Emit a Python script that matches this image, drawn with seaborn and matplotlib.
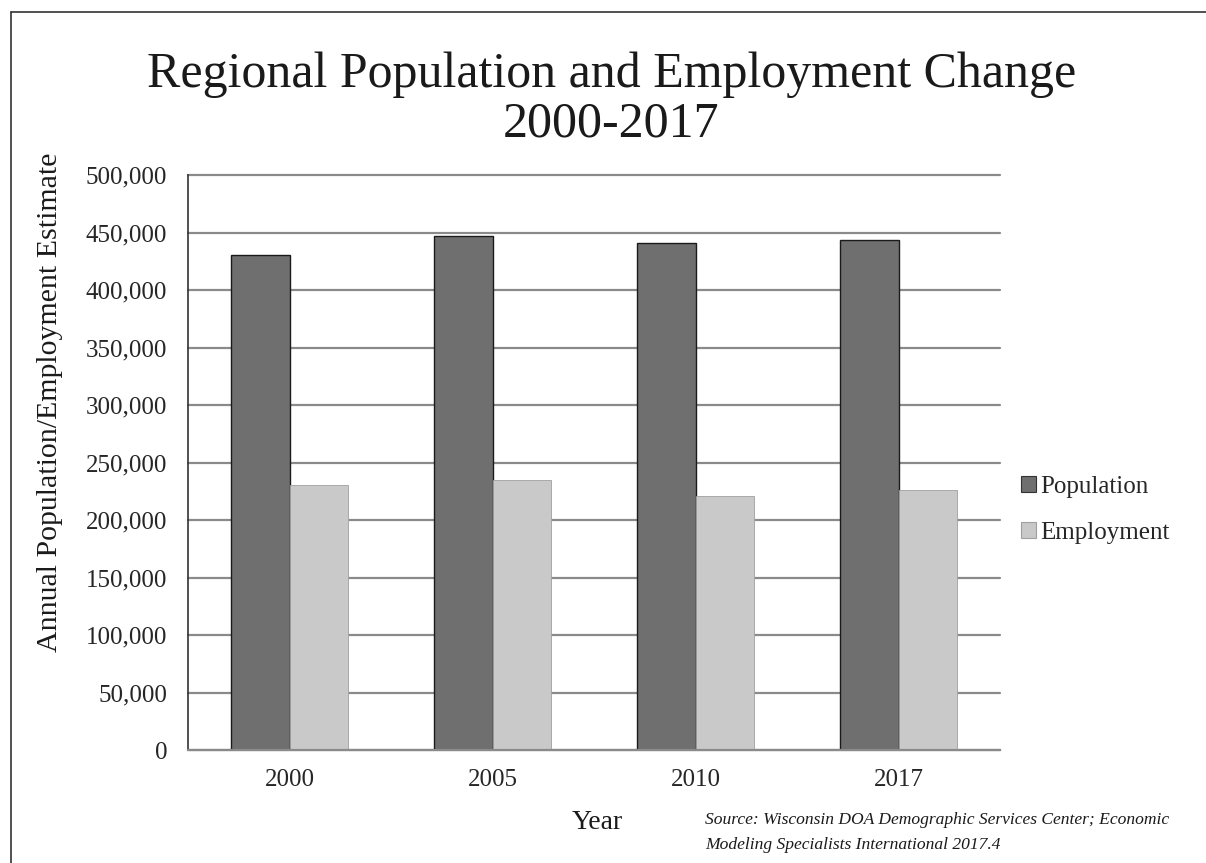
import pandas as pd
import numpy as np
import matplotlib
matplotlib.use("Agg")
import matplotlib.pyplot as plt
import seaborn as sns
from matplotlib.lines import Line2D
from matplotlib.ticker import FuncFormatter

# ===============================
# DATA
# ===============================
years = ["2000", "2005", "2010", "2017"]
population = [430200, 447100, 441300, 443900]
employment = [230200, 234800, 220800, 226300]
series_names = ["Population", "Employment"]
y_ticks = list(range(0, 500001, 50000))

df = pd.DataFrame({
    "Year": years * 2,
    "Series": [series_names[0]] * len(years) + [series_names[1]] * len(years),
    "Value": population + employment,
})

# ===============================
# STYLE
# ===============================
sns.set_theme(style="white")
plt.rcParams["font.family"] = ["Liberation Serif", "DejaVu Serif"]

fig = plt.figure(figsize=(12.06, 8.63), dpi=100)
ax = fig.add_axes([0.1559, 0.1309, 0.6733, 0.6663])

palette = {"Population": "#6f6f6f", "Employment": "#c9c9c9"}
sns.barplot(data=df, x="Year", y="Value", hue="Series", palette=palette,
            width=0.58, gap=0, ax=ax, legend=False, saturation=1)

for bar in ax.patches[:len(years)]:
    bar.set_edgecolor("#1a1a1a")
    bar.set_linewidth(1.0)
for bar in ax.patches[len(years):2 * len(years)]:
    bar.set_edgecolor("#a0a0a0")
    bar.set_linewidth(0.6)

ax.set_xlim(-0.5, 3.5)
ax.set_ylim(0, 500000)
ax.set_yticks(y_ticks)
ax.yaxis.set_major_formatter(FuncFormatter(lambda v, p: f"{int(v):,}"))
ax.yaxis.grid(True, color="#8a8a8a", linewidth=1.6)
for gl in ax.get_ygridlines():
    gl.set_clip_on(False)
ax.set_axisbelow(True)
ax.tick_params(axis="y", length=8, width=1.6, color="#8a8a8a", labelsize=18, pad=7)
ax.tick_params(axis="x", length=0, labelsize=18, pad=14)
ax.set_xlabel("")
ax.set_ylabel("")

for s in ["top", "right"]:
    ax.spines[s].set_visible(False)
ax.spines["left"].set_color("#333333")
ax.spines["left"].set_linewidth(1.2)
ax.spines["bottom"].set_color("#8a8a8a")
ax.spines["bottom"].set_linewidth(1.6)

# ===============================
# TEXT
# ===============================
fig.text(0.507, 1 - 75 / 863, "Regional Population and Employment Change",
         ha="center", va="center", fontsize=36, color="#1a1a1a")
fig.text(0.507, 1 - 124 / 863, "2000-2017",
         ha="center", va="center", fontsize=36, color="#1a1a1a")
fig.text(50 / 1206, 1 - 402 / 863, "Annual Population/Employment Estimate",
         ha="center", va="center", rotation=90, fontsize=21.5, color="#1a1a1a")
fig.text(597 / 1206, 1 - 822 / 863, "Year",
         ha="center", va="center", fontsize=20, color="#1a1a1a")
fig.text(705 / 1206, 1 - 820 / 863,
         "Source: Wisconsin DOA Demographic Services Center; Economic",
         ha="left", va="center", fontsize=12.6, style="italic", color="#1a1a1a")
fig.text(705 / 1206, 1 - 845 / 863,
         "Modeling Specialists International 2017.4",
         ha="left", va="center", fontsize=12.6, style="italic", color="#1a1a1a")

# legend
handles = [plt.Rectangle((0, 0), 1, 1, facecolor=palette[n],
                         edgecolor="#333333" if n == "Population" else "#a0a0a0",
                         linewidth=0.8) for n in series_names]
fig.legend(handles, series_names, loc="center left",
           bbox_to_anchor=(998 / 1206, 1 - 510 / 863), frameon=False,
           fontsize=18, handlelength=0.6, handleheight=0.6,
           handletextpad=0.2, labelspacing=0.95)

# frame lines (left and top)
fig.add_artist(Line2D([11 / 1206, 11 / 1206], [0, 1 - 12 / 863],
                      transform=fig.transFigure, color="#333333", linewidth=1.2))
fig.add_artist(Line2D([11 / 1206, 1], [1 - 12 / 863, 1 - 12 / 863],
                      transform=fig.transFigure, color="#333333", linewidth=1.2))

fig.savefig("out.png", dpi=100)
